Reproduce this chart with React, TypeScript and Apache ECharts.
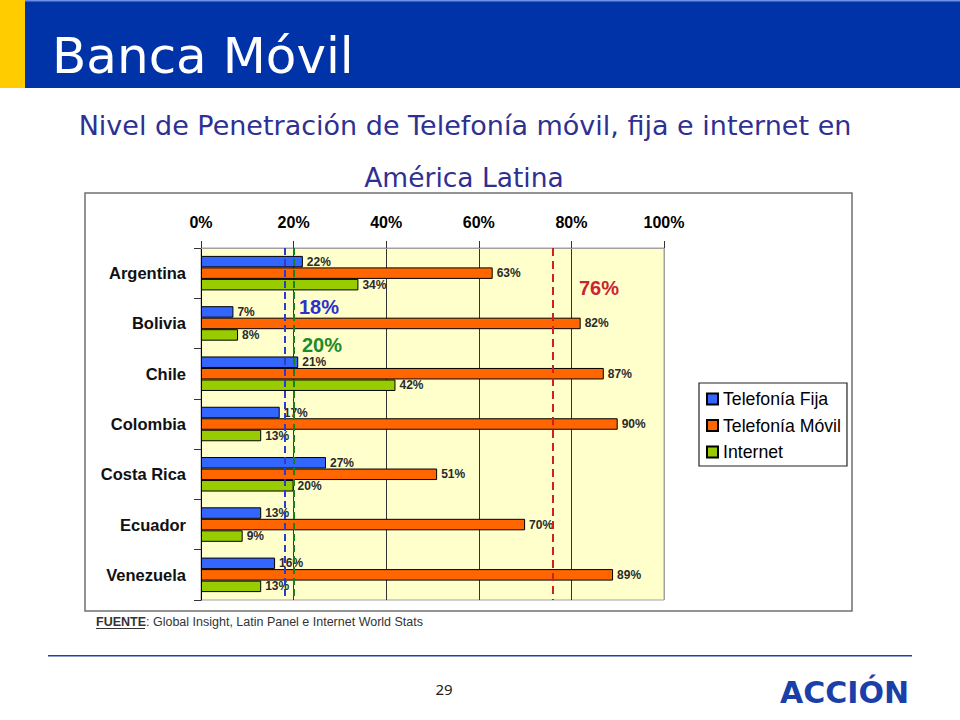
import React, { useEffect, useRef } from "react";
import * as echarts from "echarts";

const countries = ["Argentina", "Bolivia", "Chile", "Colombia", "Costa Rica", "Ecuador", "Venezuela"];
const fija = [22, 7, 21, 17, 27, 13, 16];
const movil = [63, 82, 87, 90, 51, 70, 89];
const internet = [34, 8, 42, 13, 20, 9, 13];
const seriesNames = ["Telefonía Fija", "Telefonía Móvil", "Internet"];
const xMin = 0;
const xMax = 100;
const xInterval = 20;
const refFija = 18;
const refInternet = 20;
const refMovil = 76;

const ARIAL = "'Liberation Sans', Arial, sans-serif";
const VERDANA = "'DejaVu Sans', Verdana, sans-serif";

const barColors = ["#3366FF", "#FF6600", "#99CC00"];

function txt(text: string, x: number, y: number, font: string, fill: string, align = "left") {
  return {
    type: "text",
    z: 100,
    style: {
      text,
      x,
      y,
      font,
      fill,
      align,
      textAlign: align,
      verticalAlign: "middle",
      textVerticalAlign: "middle",
    },
  };
}

export default function App() {
  const ref = useRef<HTMLDivElement>(null);

  useEffect(() => {
    if (!ref.current) return;
    const chart = echarts.init(ref.current, undefined, { renderer: "svg" });

    const labelCfg = {
      show: true,
      position: "right",
      distance: 4,
      formatter: "{c}%",
      fontFamily: ARIAL,
      fontSize: 12,
      fontWeight: "bold",
      color: "#2a2a2a",
    };
    const itemStyle = (c: string) => ({ color: c, borderColor: "#000", borderWidth: 1 });

    const option: any = {
      animation: false,
      backgroundColor: "transparent",
      grid: {
        left: 201,
        top: 248,
        width: 463,
        height: 352,
        show: true,
        backgroundColor: "#FFFFCC",
        borderColor: "#A0A0A0",
        borderWidth: 1,
        containLabel: false,
      },
      legend: {
        orient: "vertical",
        left: 699,
        top: 383,
        data: seriesNames,
        backgroundColor: "#fff",
        borderColor: "#222",
        borderWidth: 1.2,
        padding: [7, 6, 5, 7],
        itemWidth: 11,
        itemHeight: 11,
        itemGap: 8.5,
        icon: "rect",
        textStyle: { fontFamily: ARIAL, fontSize: 17.7, color: "#000" },
      },
      xAxis: {
        type: "value",
        position: "top",
        min: xMin,
        max: xMax,
        interval: xInterval,
        axisLine: { show: true, lineStyle: { color: "#A0A0A0" } },
        axisTick: { show: true, length: 7, lineStyle: { color: "#333" } },
        axisLabel: {
          formatter: "{value}%",
          margin: 18,
          fontFamily: ARIAL,
          fontSize: 16,
          fontWeight: "bold",
          color: "#000",
        },
        splitLine: {
          show: true,
          lineStyle: { color: ["#000", "#333", "#333", "#333", "#333", "#A0A0A0"], width: 1 },
        },
      },
      yAxis: {
        type: "category",
        inverse: true,
        data: countries,
        axisLine: { show: true, lineStyle: { color: "#000" } },
        axisTick: { show: true, length: 7, lineStyle: { color: "#333" } },
        axisLabel: {
          margin: 15,
          fontFamily: ARIAL,
          fontSize: 16.5,
          fontWeight: "bold",
          color: "#111",
        },
      },
      series: [
        {
          name: seriesNames[0],
          type: "bar",
          data: fija,
          barWidth: 11.5,
          barGap: "0%",
          itemStyle: itemStyle(barColors[0]),
          label: labelCfg,
          markLine: {
            silent: true,
            symbol: ["none", "none"],
            label: { show: false },
            z: 10,
            data: [
              { xAxis: refFija, lineStyle: { color: "#2B3BD0", type: [7, 4], width: 2 } },
              { xAxis: refInternet, lineStyle: { color: "#1A801A", type: [7, 4], width: 2 } },
              { xAxis: refMovil, lineStyle: { color: "#D02020", type: [8, 5], width: 2 } },
            ],
          },
        },
        {
          name: seriesNames[1],
          type: "bar",
          data: movil,
          barWidth: 11.5,
          barGap: "0%",
          itemStyle: itemStyle(barColors[1]),
          label: labelCfg,
        },
        {
          name: seriesNames[2],
          type: "bar",
          data: internet,
          barWidth: 11.5,
          barGap: "0%",
          itemStyle: itemStyle(barColors[2]),
          label: labelCfg,
        },
      ],
      graphic: [
        { type: "rect", z: -10, shape: { x: 85, y: 193, width: 767, height: 418 }, style: { fill: "#fff", stroke: "#707070", lineWidth: 1.5 } },
        { type: "rect", z: 100, shape: { x: 0, y: 0, width: 25, height: 88 }, style: { fill: "#FFCC00" } },
        { type: "rect", z: 100, shape: { x: 25, y: 0, width: 935, height: 88 }, style: { fill: "#0033A8" } },
        { type: "rect", z: 100, shape: { x: 25, y: 0, width: 935, height: 1.5 }, style: { fill: "#6F8FE0" } },
        txt("Banca Móvil", 52, 56, `50px ${VERDANA}`, "#ffffff"),
        txt("Nivel de Penetración de Telefonía móvil, fija e internet en", 465, 125, `27px ${VERDANA}`, "#2E3092", "center"),
        txt("América Latina", 464, 177, `26.5px ${VERDANA}`, "#2E3092", "center"),
        txt("18%", 299, 307, `bold 20px ${ARIAL}`, "#2F2FCC"),
        txt("20%", 302, 345, `bold 20px ${ARIAL}`, "#1E8A2A"),
        txt("76%", 579, 288, `bold 20px ${ARIAL}`, "#CC2233"),
        {
          type: "text",
          z: 100,
          style: {
            x: 96,
            y: 622,
            text: "{b|FUENTE}{r|: Global Insight, Latin Panel e Internet World Stats}",
            verticalAlign: "middle",
            textVerticalAlign: "middle",
            rich: {
              b: { font: `bold 12.5px ${ARIAL}`, fill: "#333" },
              r: { font: `12.5px ${ARIAL}`, fill: "#333" },
            },
          },
        },
        { type: "rect", z: 100, shape: { x: 96, y: 628, width: 49, height: 1 }, style: { fill: "#333" } },
        { type: "rect", z: 100, shape: { x: 48, y: 655, width: 864, height: 1.5 }, style: { fill: "#2341A5" } },
        txt("29", 444, 689, `15px 'Noto Sans', sans-serif`, "#222", "center"),
        txt("ACCIÓN", 780, 692, `bold 30px ${VERDANA}`, "#1B3FA8"),
      ],
    };

    chart.setOption(option);
    return () => chart.dispose();
  }, []);

  return (
    <div
      ref={ref}
      style={{ position: "absolute", left: 0, top: 0, width: 960, height: 720, background: "#fff" }}
    />
  );
}
